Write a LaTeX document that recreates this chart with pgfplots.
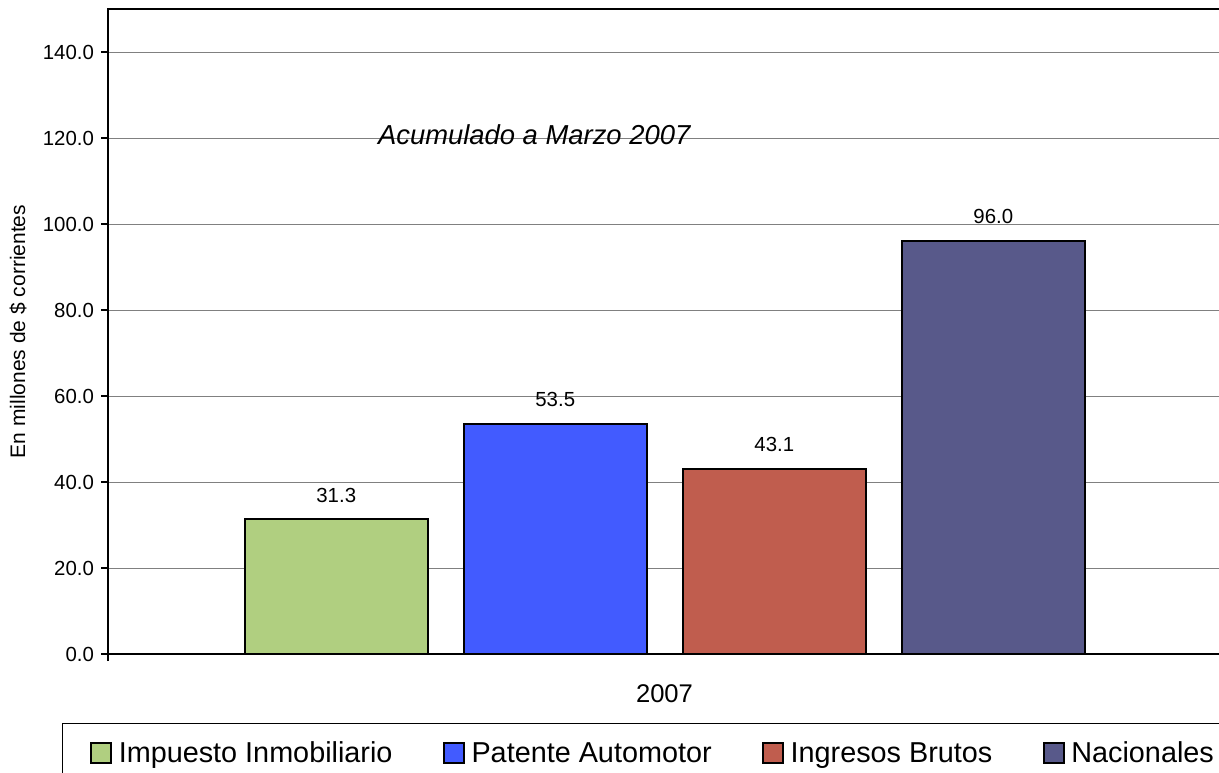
\documentclass[border=0pt]{standalone}
\usepackage{pgfplots}
\pgfplotsset{compat=1.18}
\usepackage{fontspec}
\setmainfont{Liberation Sans}
\definecolor{cgreen}{RGB}{176,207,128}
\definecolor{cblue}{RGB}{66,91,255}
\definecolor{cred}{RGB}{192,93,78}
\definecolor{cnavy}{RGB}{88,89,138}
\begin{document}
\begin{tikzpicture}
\path[use as bounding box] (-54pt,-59pt) rectangle (555.5pt,327pt);
\begin{axis}[
  at={(0pt,0pt)}, anchor=south west,
  scale only axis, width=558.5pt, height=322.5pt,
  xmin=108, xmax=1225, ymin=0, ymax=150,
  clip=false,
  ybar=18pt, bar width=183,
  ytick={0,20,...,140},
  ymajorgrids, grid style={black!50, line width=0.5pt},
  xtick={108}, xticklabels={},
  xtick pos=bottom, ytick pos=left,
  tick align=outside, major tick length=3.5pt,
  tick style={black, line width=0.8pt},
  axis line style={line width=1pt},
  yticklabel style={font=\fontsize{10.2}{12}\selectfont, /pgf/number format/.cd, fixed, fixed zerofill, precision=1, assume math mode=true},
  nodes near coords,
  nodes near coords style={font=\fontsize{10.2}{12}\selectfont, anchor=base, yshift=8.7pt, /pgf/number format/.cd, fixed, fixed zerofill, precision=1, assume math mode=true},
  xlabel={2007},
  every axis x label/.style={at={(axis description cs:0.4982,-0.0744)}, anchor=base, font=\fontsize{12.8}{15}\selectfont},
  ylabel={En millones de \$ corrientes},
  every axis y label/.style={at={(axis description cs:-0.0743,0.5)}, rotate=90, anchor=base, font=\fontsize{10.5}{12}\selectfont},
  legend columns=4,
  legend style={at={(axis description cs:-0.01611,-0.1550)}, anchor=west, draw=none, fill=none, inner sep=0pt,
    font=\fontsize{14.4}{17}\selectfont,
    nodes={inner sep=0pt},
    /tikz/every odd column/.append style={column sep=3.2pt},
    /tikz/every even column/.append style={column sep=25.3pt}},
  legend image code/.code={\draw[#1, draw=black, line width=1pt] (0pt,-4.5pt) rectangle (10pt,5.5pt);},
]
\addplot[fill=cgreen, draw=black, line width=1pt] coordinates {(664.75,31.3)};
\addlegendentry{Impuesto Inmobiliario}
\addplot[fill=cblue, draw=black, line width=1pt] coordinates {(664.75,53.5)};
\addlegendentry{Patente Automotor}
\addplot[fill=cred, draw=black, line width=1pt] coordinates {(664.75,43.1)};
\addlegendentry{Ingresos Brutos}
\addplot[fill=cnavy, draw=black, line width=1pt] coordinates {(664.75,96.0)};
\addlegendentry{Nacionales}
\node[anchor=base west, font=\itshape\fontsize{13.7}{16}\selectfont] at (axis cs:371,118.6) {Acumulado a Marzo 2007};
\draw[line width=0.5pt] (axis description cs:-0.0403,-0.107) rectangle (axis description cs:1.5,-0.6);
\end{axis}
\end{tikzpicture}
\end{document}
